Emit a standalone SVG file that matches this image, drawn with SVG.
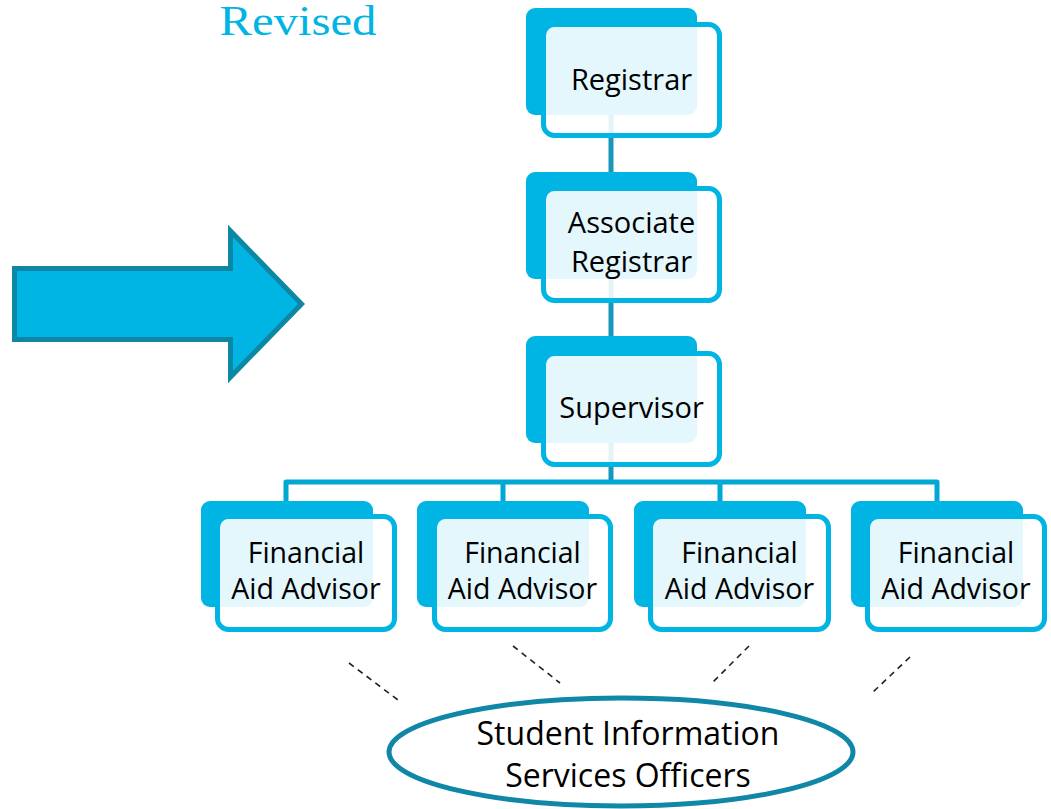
<svg xmlns="http://www.w3.org/2000/svg" width="1051" height="809" viewBox="0 0 1051 809">
<style>
.back{fill:#00B4E3;}
.front{fill:#FFFFFF;fill-opacity:0.89;stroke:#00B4E3;stroke-width:5;}
.lbl{font-family:"Open Sans","Liberation Sans",sans-serif;font-size:29px;fill:#000;text-anchor:middle;}
.fa{font-size:28.5px;}
.conn{fill:none;stroke-width:5;stroke-linejoin:round;}
.dash{fill:none;stroke:#222;stroke-width:1.6;stroke-dasharray:6,5;}
</style>
<rect width="1051" height="809" fill="#FFFFFF"/>
<text x="298" y="35" font-family="Liberation Serif,serif" font-size="43" fill="#00B4E3" text-anchor="middle" textLength="157" lengthAdjust="spacingAndGlyphs">Revised</text>
<g id="arrow">
<path d="M14.5,268.5 H230.5 V231 L301.5,304 L230.5,377 V339.5 H14.5 Z" fill="#00B4E3" stroke="#0E86A5" stroke-width="5" stroke-linejoin="miter"/>
</g>
<g id="connectors">
<path class="conn" stroke="#1A96BA" d="M611,110 V176 M611,275 V340 M611,440 V482"/>
<path class="conn" stroke="#00A8D4" d="M286,503 V482 H937 V503 M503,482 V503 M720,482 V503"/>
<line class="dash" x1="349" y1="663" x2="398" y2="700"/>
<line class="dash" x1="513" y1="646" x2="560" y2="683"/>
<line class="dash" x1="749" y1="646" x2="712" y2="683"/>
<line class="dash" x1="910" y1="657" x2="873" y2="692"/>
</g>
<g id="registrar">
<rect class="back" x="526" y="8" width="171" height="107" rx="9"/>
<rect class="front" x="543.5" y="24.5" width="176" height="111" rx="11"/>
<text class="lbl" x="631.5" y="90">Registrar</text>
</g>
<g id="associate">
<rect class="back" x="526" y="172" width="171" height="107" rx="9"/>
<rect class="front" x="543.5" y="188.5" width="176" height="112" rx="11"/>
<text class="lbl" x="631.5" y="233">Associate</text>
<text class="lbl" x="631.5" y="272">Registrar</text>
</g>
<g id="supervisor">
<rect class="back" x="526" y="336" width="171" height="107" rx="9"/>
<rect class="front" x="543.5" y="353.5" width="176" height="111" rx="11"/>
<text class="lbl" x="631.5" y="418">Supervisor</text>
</g>
<g id="fa1">
<rect class="back" x="201" y="501" width="172" height="106" rx="9"/>
<rect class="front" x="217.5" y="516.5" width="177" height="113" rx="11"/>
<text class="lbl fa" x="306" y="563">Financial</text>
<text class="lbl fa" x="306" y="599">Aid Advisor</text>
</g>
<g id="fa2">
<rect class="back" x="417" y="501" width="172" height="106" rx="9"/>
<rect class="front" x="434.5" y="516.5" width="176" height="113" rx="11"/>
<text class="lbl fa" x="522.5" y="563">Financial</text>
<text class="lbl fa" x="522.5" y="599">Aid Advisor</text>
</g>
<g id="fa3">
<rect class="back" x="634" y="501" width="172" height="106" rx="9"/>
<rect class="front" x="650.5" y="516.5" width="178" height="113" rx="11"/>
<text class="lbl fa" x="739.5" y="563">Financial</text>
<text class="lbl fa" x="739.5" y="599">Aid Advisor</text>
</g>
<g id="fa4">
<rect class="back" x="851" y="501" width="172" height="106" rx="9"/>
<rect class="front" x="867.5" y="516.5" width="177" height="113" rx="11"/>
<text class="lbl fa" x="956" y="563">Financial</text>
<text class="lbl fa" x="956" y="599">Aid Advisor</text>
</g>
<g id="sis">
<ellipse cx="621" cy="752" rx="232" ry="54" fill="#FFFFFF" stroke="#1187A8" stroke-width="5"/>
<text class="lbl" x="628" y="745" style="font-size:32px">Student Information</text>
<text class="lbl" x="628" y="787" style="font-size:32px">Services Officers</text>
</g>
</svg>
